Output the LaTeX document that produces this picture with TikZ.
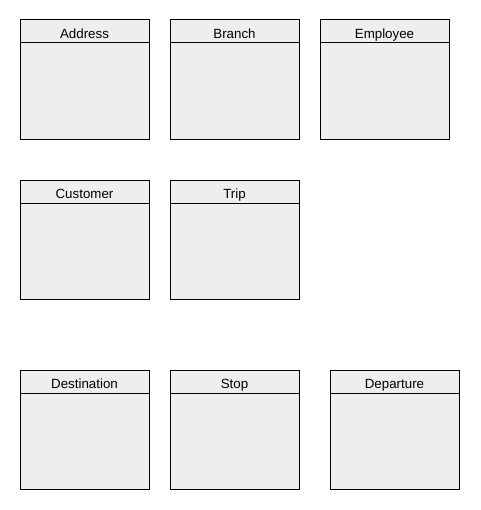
\documentclass[tikz,border=0pt]{standalone}
\usepackage{fontspec}
\setmainfont{Liberation Sans}
\usetikzlibrary{positioning}
\definecolor{boxgray}{HTML}{EEEEEE}
\tikzset{
  % Define style for entity boxes
  entity/.style={
    rectangle,
    draw=black, line width=0.75pt,
    fill=boxgray,
    outer sep=0pt,
    minimum width=96.75pt,
    minimum height=89.25pt,
    path picture={
      \draw[line width=0.75pt]
        ([yshift=-17.25pt]path picture bounding box.north west) --
        ([yshift=-17.25pt]path picture bounding box.north east);},
    label={[anchor=base, yshift=-13.7pt, inner sep=0pt,
      font=\fontsize{10pt}{12pt}\selectfont]north:#1}},
}

\begin{document}
\begin{tikzpicture}[x=0.75pt, y=-0.75pt, node distance=15.75pt]
  \useasboundingbox (0,0) rectangle (480,510);
  % top row
  \node[entity=Address, anchor=north west] (address) at (20,20) {};
  \node[entity=Branch, right=of address] (branch) {};
  \node[entity=Employee, right=of branch] (employee) {};
  % middle row
  \node[entity=Customer, below=30.75pt of address] (customer) {};
  \node[entity=Trip, right=of customer] (trip) {};
  % bottom row
  \node[entity=Destination, below=53.25pt of customer] (destination) {};
  \node[entity=Stop, right=of destination] (stop) {};
  \node[entity=Departure, right=23.25pt of stop] (departure) {};
\end{tikzpicture}
\end{document}
